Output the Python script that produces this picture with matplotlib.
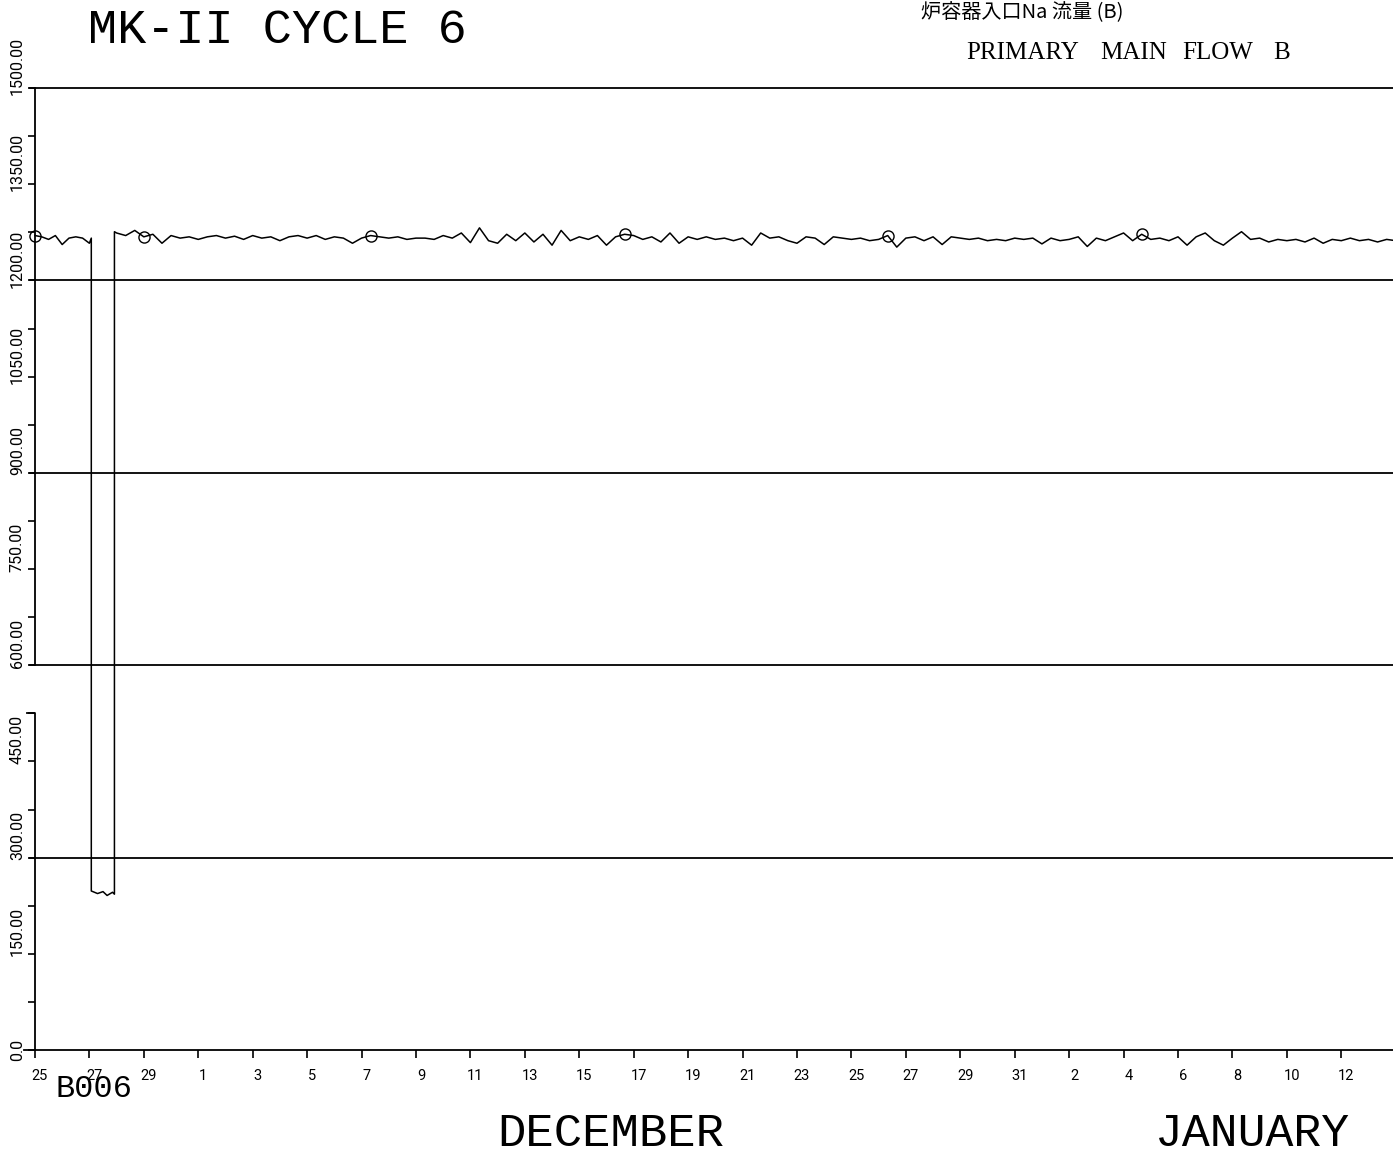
import numpy as np
import matplotlib.pyplot as plt
from matplotlib import transforms

# time axis in days counted from 25 November
day_labels = ['25', '27', '29', '1', '3', '5', '7', '9', '11', '13', '15', '17', '19',
              '21', '23', '25', '27', '29', '31', '2', '4', '6', '8', '10', '12']
y_labels = ['0.0', '150.00', '300.00', '450.00', '600.00', '750.00', '900.00',
            '1050.00', '1200.00', '1350.00', '1500.00']

# flow before the trip, every 6 hours from day 0
flow_a = [1270, 1268, 1264, 1270, 1256, 1266, 1268, 1266, 1258]
# the trip on the 27th
trip_days = [2.07, 2.07, 2.3, 2.5, 2.65, 2.85, 2.92, 2.92]
trip_flow = [1266, 248, 244, 247, 241, 246, 243, 1276]
# flow after restart, every 8 hours from day 3
flow_b = [1274, 1270, 1278, 1268, 1272, 1258, 1270, 1266, 1268, 1264,
          1268, 1270, 1266, 1269, 1264, 1270, 1266, 1268, 1262, 1268,
          1270, 1266, 1270, 1264, 1268, 1266, 1258, 1266, 1270, 1268,
          1266, 1268, 1264, 1266, 1266, 1264, 1270, 1266, 1274, 1259,
          1282, 1262, 1258, 1272, 1262, 1274, 1260, 1272, 1255, 1278,
          1262, 1268, 1264, 1270, 1255, 1268, 1272, 1270, 1264, 1268,
          1260, 1274, 1258, 1268, 1264, 1268, 1264, 1266, 1262, 1266,
          1255, 1274, 1266, 1268, 1262, 1258, 1268, 1266, 1256, 1268,
          1266, 1264, 1266, 1262, 1264, 1270, 1252, 1266, 1268, 1262,
          1268, 1256, 1268, 1266, 1264, 1266, 1262, 1264, 1262, 1266,
          1264, 1266, 1257, 1266, 1262, 1264, 1268, 1253, 1266, 1262,
          1268, 1274, 1262, 1272, 1264, 1266, 1262, 1268, 1255, 1268,
          1274, 1262, 1255, 1266, 1276, 1264, 1266, 1260, 1264, 1262,
          1264, 1260, 1266, 1258, 1264, 1262, 1266, 1262, 1264, 1260,
          1264, 1262]
marker_days = [0.0, 4.0, 12.33, 21.67, 31.33, 40.67]

days_a = np.arange(len(flow_a)) * 0.25
days_b = 3 + np.arange(len(flow_b)) / 3
days = np.concatenate([days_a, trip_days, days_b])
flow = np.concatenate([flow_a, trip_flow, flow_b])
mark_idx = [int(np.argmin(np.abs(days - d))) for d in marker_days]

plotter = ['Roboto', 'DejaVu Sans']
mono = 'Liberation Mono'

fig = plt.figure(figsize=(13.93, 11.54), dpi=100)
ax = fig.add_axes([0.0251, 0.0901, 0.9749, 0.8336])
ax.set_xlim(0, 49.9)
ax.set_ylim(0, 1500)
for s in ['left', 'top', 'right']:
    ax.spines[s].set_visible(False)
ax.spines['bottom'].set_linewidth(1.3)

# reference lines every 300
yx = transforms.blended_transform_factory(ax.transAxes, ax.transData)
for v in range(300, 1501, 300):
    ax.plot([-0.004, 1], [v, v], color='black', lw=1.3, transform=yx, clip_on=False)
ax.plot([-0.008, 0], [0, 0], color='black', lw=1.3, transform=yx, clip_on=False)

# broken left axis
ax.plot([0, 0], [600, 1500], color='black', lw=1.3, transform=yx, clip_on=False)
ax.plot([-0.006, 0, 0], [525, 525, 0], color='black', lw=1.3, transform=yx, clip_on=False)

ax.set_yticks(np.arange(0, 1501, 75))
ax.set_yticklabels([])
ax.tick_params(axis='y', direction='out', length=5, width=1.2)
ax.set_xticks(np.arange(0, 49, 2))
ax.set_xticklabels(day_labels, fontsize=10.5, family=plotter)
ax.tick_params(axis='x', direction='out', length=6, width=1.2, pad=8)
shift = transforms.ScaledTranslation(5 / 100, 0, fig.dpi_scale_trans)
for lab in ax.get_xticklabels():
    lab.set_transform(lab.get_transform() + shift)

for v, lab in zip(range(0, 1501, 150), y_labels):
    off = 0 if v == 0 else 0.22
    ax.text(-0.013, v, lab, rotation=90, ha='center', va='center', fontsize=11.5,
            family=plotter, transform=yx + transforms.ScaledTranslation(0, off, fig.dpi_scale_trans))

ax.plot(days, flow, color='black', lw=1.1, marker='o', markevery=mark_idx,
        markersize=8, markerfacecolor='none', markeredgewidth=1.0, clip_on=False)

fig.text(0.063, 0.974, 'MK-II CYCLE 6', fontsize=35, family=mono,
         va='center', ha='left')
fig.text(0.661, 0.989, '炉容器入口Na 流量 (B)', fontsize=14.5,
         family=['Noto Sans CJK JP', 'DejaVu Sans'], va='center', ha='left')
for word, x in [('PRIMARY', 0.6935), ('MAIN', 0.790), ('FLOW', 0.849), ('B', 0.914)]:
    fig.text(x, 0.954, word, fontsize=18, family='Liberation Serif',
             va='center', ha='left')
fig.text(0.040, 0.056, 'B006', fontsize=23, family=mono, va='center', ha='left')
fig.text(0.357, 0.017, 'DECEMBER', fontsize=34, family=mono, va='center', ha='left')
fig.text(0.829, 0.017, 'JANUARY', fontsize=33.5, family=mono, va='center', ha='left')

fig.savefig('out.png', dpi=100)
